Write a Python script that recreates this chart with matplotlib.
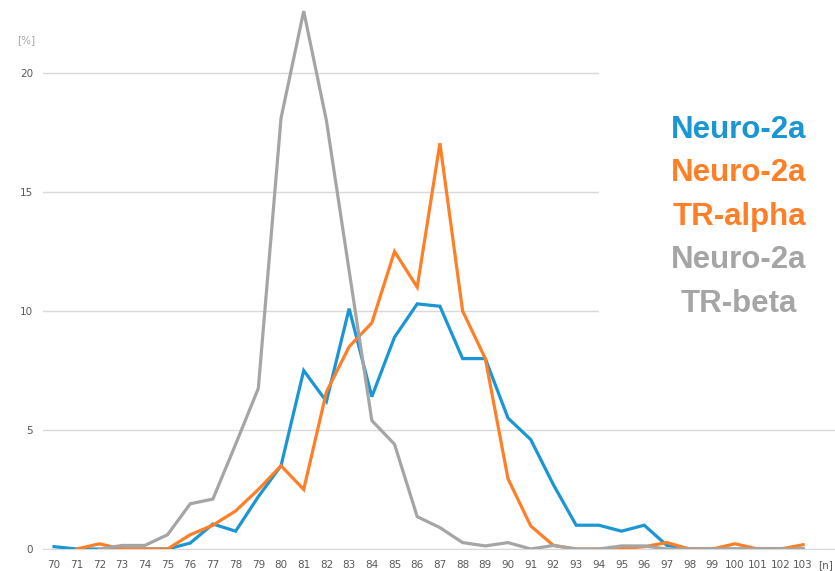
import numpy as np
import matplotlib.pyplot as plt
from matplotlib.lines import Line2D

# categories: cell count per nucleus, last category is the axis unit label
cats = list(range(70, 104))
xlabels = [str(c) for c in cats] + ['[n]']

# % of cells (nan = no point)
neuro2a = [0.1, 0.0, 0.0, 0.0, 0.0, 0.0, 0.25, 1.05, 0.75, 2.2, 3.5, 7.5, 6.2, 10.1, 6.4, 8.9, 10.3, 10.2,
           8.0, 8.0, 5.5, 4.6, 2.7, 1.0, 1.0, 0.75, 1.0, 0.15, 0.0, 0.0, 0.0, 0.0, 0.0, 0.0]
tr_alpha = [np.nan, 0.0, 0.22, 0.0, 0.0, 0.0, 0.6, 1.0, 1.6, 2.5, 3.5, 2.5, 6.6, 8.5, 9.5, 12.5, 11.0, 17.05,
            10.0, 8.0, 2.95, 0.97, 0.15, 0.0, 0.0, 0.02, 0.1, 0.27, 0.0, 0.0, 0.22, 0.0, 0.0, 0.18]
tr_beta = [np.nan, np.nan, 0.0, 0.15, 0.15, 0.6, 1.9, 2.1, 4.4, 6.75, 18.1, 22.6, 18.0, 11.7, 5.4, 4.4, 1.36, 0.9,
           0.27, 0.13, 0.27, 0.0, 0.15, 0.0, 0.0, 0.13, 0.13, 0.0, 0.0, 0.0, 0.0, 0.0, 0.0, 0.0]

blue = '#1a96d5'
orange = '#ff7f27'
grey = '#a5a5a5'
tick_col = '#595959'

fig = plt.figure(figsize=(8.35, 5.71), dpi=100)
ax = fig.add_axes([0.0511, 0.0385, 0.9515, 0.9587])

ax.plot(cats, neuro2a, color=blue, lw=2.3, solid_joinstyle='miter', zorder=3)
ax.plot(cats, tr_alpha, color=orange, lw=2.3, solid_joinstyle='miter', zorder=4)
ax.plot(cats, tr_beta, color=grey, lw=2.3, solid_joinstyle='miter', zorder=5)

ax.set_xlim(69.5, 104.5)
ax.set_ylim(0, 23)
ax.set_xticks(list(range(70, 105)))
ax.set_xticklabels(xlabels)
ax.set_yticks([0, 5, 10, 15, 20])
ax.tick_params(axis='x', length=0, pad=8, labelsize=7.5, labelcolor=tick_col)
ax.tick_params(axis='y', length=0, pad=7, labelsize=7.5, labelcolor=tick_col)
for s in ['top', 'right', 'left']:
    ax.spines[s].set_visible(False)
ax.spines['bottom'].set_color('#d9d9d9')
ax.yaxis.grid(True, color='#d9d9d9', lw=1)
ax.set_axisbelow(True)

fig.text(0.02, 0.925, '[%]', color='#a6a6a6', fontsize=7.5)

# legend in coloured bold text, no handles
handles = [Line2D([], [], lw=0) for _ in range(3)]
names = ['Neuro-2a', 'Neuro-2a\nTR-alpha', 'Neuro-2a\nTR-beta']
leg = ax.legend(handles, names, loc='center', bbox_to_anchor=(0.885, 0.62), bbox_transform=fig.transFigure,
                handlelength=0, handletextpad=0, borderpad=2.3, labelspacing=0.42,
                frameon=True, facecolor='white', edgecolor='none', framealpha=1, fancybox=False,
                prop={'family': 'Liberation Sans', 'weight': 'bold', 'size': 22.5})
leg.get_frame().set_linewidth(0)
for t, c in zip(leg.get_texts(), [blue, orange, grey]):
    t.set_color(c)
    t.set_multialignment('center')
    t.set_linespacing(1.6)

fig.savefig('out.png', dpi=100)
